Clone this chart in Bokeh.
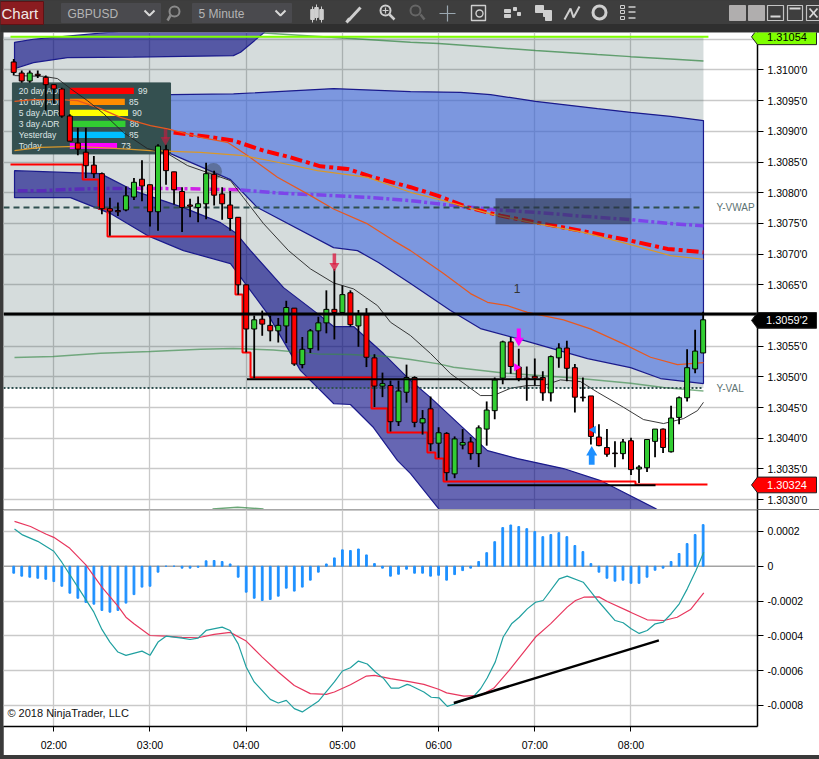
from bokeh.plotting import figure
from bokeh.layouts import column
from bokeh.models import (Range1d, FixedTicker, ColumnDataSource)
from bokeh.core.properties import value
from bokeh.embed import file_html
from bokeh.resources import INLINE
import math

# ---------- data (price values are points above 1.30000, i.e. 1.30000 + v/100000; time is minutes after 00:00) ----------
opens = [1013,995,982,993,988,976,969,925,881,866,845,831,774,771,772,793,822,813,769,870,834,802,780,776,782,830,798,780,760,650,
         578,594,584,575,583,612,520,546,575,588,610,605,637,583,601,531,485,486,427,475,499,425,448,392,408,342,389,394,375,415,
         445,498,557,516,498,501,499,474,531,547,515,467,469,402,385,376,375,396,350,352,395,415,378,434,466,513,539]
closes = [996,982,995,991,976,969,925,884,871,844,831,774,770,769,795,817,811,769,876,836,805,776,778,782,831,796,782,758,650,578,
          593,586,575,584,613,521,545,575,588,610,605,634,585,602,532,485,489,427,477,499,426,432,391,409,344,399,393,375,417,446,
          495,557,517,497,496,498,474,533,547,514,467,466,403,388,374,375,394,349,353,398,415,385,433,466,515,542,593]
highs = [1018,999,999,999,991,977,971,928,906,906,860,833,792,784,810,824,853,813,879,878,834,809,790,794,849,836,809,803,760,650,
         600,608,600,596,624,612,565,578,598,641,676,649,641,609,612,537,507,494,494,520,501,446,468,418,410,403,415,402,421,460,
         499,559,565,546,517,530,509,535,555,559,521,499,469,423,415,395,399,401,356,399,415,416,453,468,545,577,606]
lows = [991,979,979,987,934,945,922,884,861,824,824,765,730,762,770,788,786,745,738,813,781,736,760,752,757,779,756,738,634,540,
        498,567,558,556,555,518,514,539,543,571,561,603,582,549,516,451,467,411,420,458,418,406,379,368,331,335,382,365,353,388,
        431,488,505,493,461,486,461,460,515,493,442,460,390,387,370,353,366,340,327,345,369,376,377,423,460,506,539]
macd_hist = [-4.0,-5.7,-6.3,-6.9,-7.5,-8.8,-11.5,-15.5,-18.4,-20.8,-21.8,-25.4,-26.4,-25.4,-21.2,-16.3,-12,-11.5,-3.4,0,0,-1.1,-1.1,-0.6,
             3.1,3.3,2.7,1.3,-6.3,-14.9,-18.4,-19.7,-19.1,-17.2,-12.6,-14.3,-12,-8,-3.4,1.3,4.8,9.4,9,9.9,6.5,1.5,-1.1,-5.7,-4.6,-1.7,
             -4,-4,-5.7,-5.2,-8,-4.8,-2.5,-1.1,2.7,7.8,14.1,22.2,23.7,22.8,21.6,19.9,17,18.2,19.3,17,11.9,8.4,1.5,-3.4,-6.9,-8.6,-8,
             -9.8,-9.8,-6.3,-2.3,-1.1,2.7,7.3,13,18.2,23.9]

band_top_t = [95.5,107.3,128.5,169.7,232,236.5,250.8,262]
band_top_a = [1045,1050,1055,1065,1075,1076,1078,1085]
band_top_b = [1002,1012,1020,1021,1023.3,1028.7,1060,1085]

blue_up_t = [95.5,149.1,192.8,232.1,294.5,342.5,373.7,392.4,420.4,459.1,479.7,504.6,525.2]
blue_up = [966.3,963,959.8,960.9,969.6,964.7,963.6,959.8,948.9,937,931,924.5,917.5]
blue_lo_t = [95.5,149.1,178.4,192.8,230.2,247,294.5,309.4,322.5,342.5,367.4,386.1,409.2,452.9,479.7,498.4,525.2]
blue_lo = [881.6,876.7,873.5,863.7,821.4,775.8,710.6,705.7,686.2,652,608,578.7,562.4,529.8,515.2,497.3,489.1]

dark_up_t = [95.5,149.1,169.7,200.9,224,233.3,242.7,263.3,284.5,294.5,307,325.6,342.5,355,390.5,409.2,437.9,461,495.3,517]
dark_up = [836,831.1,803.5,775.8,751.3,735,705.7,645.4,603.1,582,582,538,494,466.3,380,367,350.7,331.1,285.5,249.7]
dark_lo_t = [95.5,130.4,155.4,178.4,200.9,230.2,253.3,273.9,294.5,305,319.4,334.4,342.5,360,373.7]
dark_lo = [792,792,766,730.2,705.7,684.6,603.1,510.3,456.6,455,417.5,363.7,342.5,285.5,241.5]

green_hi_t = [250.8,342.5,360,390.5,420.4,459,479.7,504.6,525.2]
green_hi = [1060.3,1045,1042.9,1037.5,1031.5,1025,1021.7,1018,1014.7]
green_lo_t = [95.5,119.8,149.1,180.3,211.5,232.1,257,284.5,305,328.1,342.5,360,369.3,400.5,446.6,479.7,500.3,525.2]
green_lo = [531.5,533.1,538.5,541.2,545,546.1,544,537.5,536.3,533.1,528.2,521.2,515.7,506.5,497.7,489.7,482.7,477.1]
green_bump_t = [219,234.6,250.8]
green_bump = [285,287.6,285]

sma_t = [95.5,113.6,122.3,130.4,141,151,163.5,178.4,191,203.4,215.9,230.2,238.3,250.8,266.4,280.1,294.5,307,321.9,330,342.5,355,367.4,
         386.1,394.2,404.9,415.4,425.4,436,448.5,459.1,475.3,487.8,500.3,512.8,521.5,525.2]
sma = [990.8,989.6,985.9,969.6,950,928.9,897.9,871.9,863.7,844.2,832.8,819.7,792,749.7,705.7,675.9,653.1,643.3,616.1,589,567.3,538,505.4,
       469.6,469.6,481.5,485.9,485.9,495.1,492.4,475,450.5,430.5,424,432.1,445.1,458.6]
orange_t = [95.5,107.3,124.2,134.8,149.1,161.6,180.3,191,211.5,228.3,240.8,259.5,278.2,294.5,315.7,331.9,342.5,363.1,379.9,390.5,403,
            415.4,437.9,454.7,475.3,492.2,509,525.2]
orange = [948.9,951.7,951.7,950,937,922.8,909.3,903.9,890.3,882.1,860.5,825.1,798.1,773.6,749.2,722,705.7,668.3,635.7,621.5,616.1,
          605.2,592.9,578.2,553.8,532,520,523.3]
gold_t = [95.5,111.7,134.8,163.5,180.3,211.5,238.3,259.5,284.5,315.7,342.5,363.1,392.4,420.4,450.4,479.7,504.6,525.2]
gold = [868.6,873.9,875.6,871.4,868.6,865.8,860.5,849.6,836,825.1,800.7,787.2,765.5,750.2,735.5,715.5,697.6,691.6]
red_ma_t = [194.7,215.9,232.1,250.8,267.6,286.3,303.2,319.4,342.5,359.3,378,398.6,420.4,448.5,479.7,502.8,525.2]
red_ma = [897.9,891.4,884.9,868.6,857.7,843,838.8,825.1,809,795.3,776.2,762.7,751.8,738.3,722,708.5,703]
purple_t = [97.4,113.6,136.7,169.7,211.5,236.5,263.3,294.5,315.7,342.5,369.3,396.7,420.4,450.4,479.7,502.8,525.2]
purple = [803.4,803.4,806.2,807.2,806.2,804.6,799,795.3,792.5,787.2,779,772,768.1,761.6,756.2,750.2,746]
step_t = [93,138,147.9,153.5,233.3,237.7,242.7,318.2,328.1,353,358,363.1,482.8,527.7]
step_v = [845.8,821.4,774.1,728.5,634.1,539.6,498.9,448.4,409.3,376.7,367,329.5,324.6,324.6]

macd_red_t = [95.5,105.5,115,120,130,140,150,160,165,170,180,190,200,210,220,230,240,250,260,270,280,290,295,305,315,320,330,342.5,
              350.8,360,365,375.8,386.2,394.5,404.9,420.5,429.8,440.2,445.4,450.6,460,465.2,479.7,490.1,500.5,508.8,517.1,525.4]
macd_red = [25.8,22.8,18.5,16.6,10.3,0.8,-12,-22.9,-29.3,-33.1,-39.8,-40.2,-40.9,-41.1,-39.2,-38,-43,-52.2,-60.8,-68.5,-73.2,-73.6,-72.3,
            -68.1,-63.1,-62.7,-64.6,-66.5,-67.9,-70.7,-72.8,-74.6,-74.2,-70,-58.9,-40.7,-33.1,-23.5,-19.7,-17.8,-17.6,-20.3,-26.4,-30.8,
            -31.2,-29.3,-24.9,-15.3]
macd_teal_t = [95.5,100.5,110,120,125,135,145,150,155,160,165,175,180,185,190,200,205,210,215,225,230,235,240,245,255,260,265,270,275,
               285,295,300,305,310,315.5,320.6,325.8,330.4,335.4,340.4,342.5,350.8,355.4,360.4,365.4,370.4,375.8,381,386.2,390.3,395.3,
               400.3,405.5,410.3,415.3,420.5,425.2,435.2,440.2,450.2,460.2,470.1,475.1,480.1,485.1,490.1,495.1,500.1,505.1,510.1,515.1,
               520.5,525.4]
macd_teal = [21.4,18,14.3,8.6,2.3,-12,-26.4,-36.3,-43.6,-49.3,-51.2,-48.8,-51.2,-43.6,-40.2,-41.3,-42.1,-41.3,-36.9,-35,-36.9,-44.6,-57.9,
             -66.5,-76.5,-78.6,-77.1,-81.8,-83.7,-77.6,-66.5,-60.2,-58.3,-54.5,-56.2,-60.8,-64.6,-70,-70,-67.9,-68.5,-72.3,-75.3,-75.7,
             -80.5,-79,-77.1,-75.7,-70.4,-64.2,-55.1,-40.7,-33.1,-29.3,-24.5,-20.7,-19.7,-7.3,-5.7,-9.2,-20.7,-31.2,-32.5,-35.9,-38.6,
             -36.9,-33.1,-32.1,-27.3,-21.6,-13,-2.5,8]
trend_t = [369.5,497.4]
trend_v = [-78.6,-42.6]

adr_labels = ["20 day ADR","10 day ADR","5 day ADR","3 day ADR","Yesterday","Today"]
adr_values = [99,85,90,86,85,73]
adr_colors = ["#ff0000","#ff8c00","#ffff00","#32cd32","#00bfff","#ff00ff"]

price_ticks = [1.303,1.3035,1.304,1.3045,1.305,1.3055,1.306,1.3065,1.307,1.3075,1.308,1.3085,1.309,1.3095,1.31,1.3105]
price_labels = ["1.3030'0","1.3035'0","1.3040'0","1.3045'0","1.3050'0","1.3055'0","","1.3065'0","1.3070'0","1.3075'0","1.3080'0",
                "1.3085'0","1.3090'0","1.3095'0","1.3100'0",""]
macd_ticks = [0.0002,0,-0.0002,-0.0004,-0.0006,-0.0008]
macd_labels = ["0.0002","0","-0.0002","-0.0004","-0.0006","-0.0008"]
time_ticks = [120,180,240,300,360,420,480]
time_labels = ["02:00","03:00","04:00","05:00","06:00","07:00","08:00"]
flag_levels = [1054, 592, 324]
flag_texts = ["1.31054", "1.3059'2", "1.30324"]
flag_fill = ["#7fff00", "#000000", "#ff0000"]
flag_ink = ["black", "white", "white"]

FONT = "Liberation Sans"
GRID = "#c9c9c9"
X0, X1 = 88.63, 558.9
PRICE_RANGE = (1.30284, 1.31061)
def P(v):
    return [1.3 + a/100000 for a in v] if isinstance(v, list) else 1.3 + v/100000
def M(v):
    return [a/100000 for a in v]

x_range = Range1d(X0, X1)
bars = [95 + 5*i for i in range(len(opens))]

# ---------- toolbar ----------
tb = figure(width=819, height=32, x_range=(0, 819), y_range=(32, 0), output_backend="svg", toolbar_location=None,
            x_axis_location=None, y_axis_location=None, min_border=0, background_fill_color="#3e3e3e",
            border_fill_color="#3e3e3e", outline_line_color=None, frame_align=False)
tb.grid.visible = False
tb.quad(left=[0], right=[819], top=[24], bottom=[32], color="#2f2f2f")
tb.quad(left=[0], right=[43], top=[1], bottom=[24], color="#8a1c20", line_color="#5e1215")
tb.quad(left=[61,192], right=[160,291], top=[3,3], bottom=[22,22], color="#4a4a4e")
tb.text([1], [13], text=["Chart"], text_font=value(FONT), text_font_size="15px", text_color="#f0e8e8", text_baseline="middle")
tb.text([67,198], [13,13], text=["GBPUSD","5 Minute"], text_font=value(FONT), text_font_size="12px",
        text_color="#b4b4b4", text_baseline="middle")
ICON = "#cfcfcf"
tb.multi_line([[144,149,154],[275,280,285]], [[10,15,10],[10,15,10]], line_color="#d8d8d8", line_width=2)
tb.circle([174,385],[11,10], radius=5, fill_color=None, line_color=["#8a8a8a",ICON], line_width=2)
tb.multi_line([[170,167],[389,394]], [[15,20],[14,19]], line_color=["#8a8a8a",ICON], line_width=2.5)
tb.multi_line([[382,388],[385,385]], [[10,10],[7,13]], line_color=ICON, line_width=1.2)
tb.circle([415],[10], radius=5, fill_color=None, line_color="#666666", line_width=2)
tb.multi_line([[420,424]], [[14,19]], line_color="#666666", line_width=2.5)
tb.vbar(x=[312,316,321], width=3.5, top=[9,7,9], bottom=[19,17,19], color=ICON)
tb.multi_line([[312,312],[316,316],[321,321]], [[6,22],[4,20],[6,22]], line_color=ICON, line_width=1)
tb.multi_line([[348,360],[346,349]], [[20,7],[22,18]], line_color=ICON, line_width=3)
tb.multi_line([[439,455],[447,447]], [[13,13],[5,21]], line_color="#9aa7b0", line_width=1.2)
tb.quad(left=[471], right=[485], top=[5], bottom=[20], fill_color=None, line_color=ICON, line_width=1.4)
tb.circle([479],[13], radius=3.5, fill_color=None, line_color=ICON, line_width=1.4)
tb.quad(left=[504,513,517,504], right=[510,516,520,510], top=[9,7,12,14], bottom=[12,10,15,17], color=ICON)
tb.quad(left=[535,543,545], right=[543,551,551], top=[5,10,15], bottom=[12,16,20], color=ICON)
tb.multi_line([[564,570,573,579]], [[19,8,17,6]], line_color=ICON, line_width=2)
tb.circle([599],[12], radius=6.5, fill_color=None, line_color=ICON, line_width=3)
tb.quad(left=[620,620,620], right=[624,624,624], top=[5,10,16], bottom=[8,13,19], fill_color=None, line_color=ICON, line_width=1)
tb.multi_line([[628,635],[628,635],[628,635]], [[6.5,6.5],[11.5,11.5],[17.5,17.5]], line_color=ICON, line_width=1.5)
tb.quad(left=[729,748], right=[745,764], top=[5,5], bottom=[20,20], color="#b0aeae")
tb.quad(left=[767,787,806], right=[783,802,819], top=[5,5,5], bottom=[20,20,20], fill_color=None, line_color="#c4c4c4", line_width=1.2)
tb.multi_line([[770,780],[789,800],[809,817],[809,817]], [[16,16],[8,8],[8,17],[17,8]], line_color="#d8d8d8", line_width=1.8)

# ---------- price panel ----------
p = figure(width=816, height=477, x_range=x_range, y_range=Range1d(*PRICE_RANGE), y_axis_location="right", x_axis_location=None,
           output_backend="svg", toolbar_location=None, min_border_left=0, min_border_right=62, min_border_top=0, min_border_bottom=0,
           outline_line_color=None, background_fill_color="white", margin=(0,0,0,3))
p.xgrid.ticker = FixedTicker(ticks=time_ticks)
p.ygrid.ticker = FixedTicker(ticks=price_ticks)
p.xgrid.grid_line_color = GRID
p.ygrid.grid_line_color = GRID
p.xgrid.grid_line_width = 1.3
p.ygrid.grid_line_width = 1.3
ax = p.yaxis[0]
ax.ticker = FixedTicker(ticks=price_ticks)
ax.major_label_overrides = dict(zip(price_ticks, price_labels))
ax.major_label_text_font = FONT
ax.major_label_text_font_size = "10.5px"
ax.major_label_text_color = "black"
ax.axis_line_color = "black"
ax.axis_line_width = 1.5
ax.major_tick_line_color = "black"
ax.major_tick_out = 6
ax.major_tick_in = 0
ax.minor_tick_line_color = None
ax.major_label_standoff = 4

# value area
va_top, va_bottom = 1054, 481.8
p.quad(left=[X0], right=[525.2], top=[P(va_top)], bottom=[P(va_bottom)], fill_color="#2f4f4f", fill_alpha=0.2, line_color=None)
# bands
DARK = dict(fill_color="#000080", fill_alpha=0.6, line_color="#1a1a8c", line_width=1.2)
p.patch(band_top_t + band_top_t[::-1], P(band_top_a) + P(band_top_b)[::-1], **DARK)
p.patch(dark_up_t + dark_lo_t[::-1], P(dark_up) + P(dark_lo)[::-1], **DARK)
p.patch(blue_up_t + blue_lo_t[::-1], P(blue_up) + P(blue_lo)[::-1], fill_color="#4169e1", fill_alpha=0.6, line_color="#1a1a8c", line_width=1.2)

# ADR table
p.quad(left=[94.2], right=[192.8], top=[P(978.9)], bottom=[P(863.2)], color="#345050")
rows = [965.8,947.9,930,912.1,894.2,876.2]
p.text([98.2]*6, P(rows), text=adr_labels, text_font=value(FONT), text_font_size="8.5px", text_color="#dfe6e6", text_baseline="middle")
p.hbar(y=P(rows), left=[130]*6, right=[130 + 0.4035*v for v in adr_values], height=0.0001, fill_color=adr_colors, line_color=None)
p.text([130 + 0.4035*v + 2.6 for v in adr_values], P(rows), text=[str(v) for v in adr_values], text_font=value(FONT),
       text_font_size="8.5px", text_color="#dfe6e6", text_baseline="middle")

# lines
p.line(green_hi_t, P(green_hi), line_color="#3a8a4a", line_width=1.5, line_alpha=0.75)
p.line(green_lo_t, P(green_lo), line_color="#3a8a4a", line_width=1.5, line_alpha=0.65)
p.line(green_bump_t, P(green_bump), line_color="#3a8a4a", line_width=1.5, line_alpha=0.75)
p.line(purple_t[:4], P(purple[:4]), line_color="#5a2cb8", line_width=3.5, line_dash="10 3 3 3")
p.line(purple_t[3:6], P(purple[3:6]), line_color="#cf22e6", line_width=3.5, line_dash="10 3 3 3")
p.line(purple_t[5:], P(purple[5:]), line_color="#7c45ea", line_width=3.5, line_dash="10 3 3 3")
p.line(red_ma_t, P(red_ma), line_color="#ff0000", line_width=4, line_dash="12 4 4 4")
p.line(orange_t, P(orange), line_color="#e8591f", line_width=1.2)
p.line(gold_t, P(gold), line_color="#d9982a", line_width=1.2)
p.line(sma_t, P(sma), line_color="#222222", line_width=0.9)
p.step(step_t, P(step_v), mode="after", line_color="#ff0000", line_width=2)

# key levels
p.segment(x0=[X0], x1=[525.2], y0=[P(775.8)], y1=[P(775.8)], line_color="#2f4f4f", line_width=2, line_dash="6 4")
p.segment(x0=[X0], x1=[525.2], y0=[P(481.8)], y1=[P(481.8)], line_color="#2f4f4f", line_width=2, line_dash="2 2")
p.text([533.3,533.3], [P(775.8),P(481.8)], text=["Y-VWAP","Y-VAL"], text_font=value(FONT), text_font_size="10px",
       text_color="#5c7272", text_baseline="middle")
p.quad(left=[395.5], right=[480.3], top=[P(791)], bottom=[P(748.6)], fill_color="#2a3048", fill_alpha=0.6, line_color=None)
p.scatter([219.6], [P(834.4)], size=17, marker="circle", fill_color="#2f3a3a", fill_alpha=0.4, line_color=None)

# candles
up = [c >= o for o, c in zip(opens, closes)]
src = ColumnDataSource(dict(x=bars, hi=P(highs), lo=P(lows), top=[P(max(o, c)) for o, c in zip(opens, closes)],
                            bot=[P(min(o, c)) for o, c in zip(opens, closes)],
                            col=["#32cd32" if u else "#ff0000" for u in up]))
p.segment(x0="x", x1="x", y0="lo", y1="hi", source=src, line_color="black", line_width=1.8)
p.vbar(x="x", width=3.1, top="top", bottom="bot", source=src, fill_color="col", line_color="black", line_width=1)

# signal arrows
p.vbar(x=[189.7,295,410,455.5], width=[2.2,2.2,2.5,3.6], top=[P(904),P(701),P(579),P(375)], bottom=[P(888),P(683),P(559),P(357)],
       fill_color=["#dc143c","#dc143c","#ff00ff","#1e90ff"], fill_alpha=[0.55,0.75,1,1], line_color=None)
p.scatter([189.7,295,410], [P(886),P(681),P(559)], size=10, marker="inverted_triangle",
          fill_color=["#dc143c","#dc143c","#ff00ff"], fill_alpha=[0.55,0.75,1], line_color=None)
p.scatter([455.5], [P(377)], size=11, marker="triangle", fill_color="#1e90ff", line_color=None)
p.scatter([456.6], [P(414)], size=8, marker="triangle", angle=math.pi/2, fill_color="#1e90ff", line_color=None)
p.scatter([408.6], [P(515.7)], size=8, marker="triangle", angle=-math.pi/2, fill_color="#ff00ff", line_color=None)
p.text([409], [P(644)], text=["1"], text_font=value(FONT), text_font_size="12px", text_color="#333333", text_align="center", text_baseline="middle")

# horizontal drawings on top
p.segment(x0=[X0], x1=[X1], y0=[P(602.6)], y1=[P(602.6)], line_color="black", line_width=3)
p.segment(x0=[240.5], x1=[425.4], y0=[P(496.1)], y1=[P(496.1)], line_color="black", line_width=2)
p.segment(x0=[365.5], x1=[495.3], y0=[P(323.5)], y1=[P(323.5)], line_color="black", line_width=2)
p.segment(x0=[93], x1=[528.3], y0=[P(1054)], y1=[P(1054)], line_color="#7fff00", line_width=2)

# ---------- price flags: transparent layer laid over the price panel, sharing its y scale ----------
f = figure(width=819, height=477, x_range=(0, 819), y_range=Range1d(*PRICE_RANGE), x_axis_location=None, y_axis_location=None,
           output_backend="svg", toolbar_location=None, min_border=0, outline_line_color=None, background_fill_alpha=0,
           border_fill_alpha=0, margin=(-477,0,0,0), frame_align=False)
f.grid.visible = False
H = 12.8
for lvl, col in zip(flag_levels, flag_fill):
    f.patch([751, 757, 816, 816, 757], [P(lvl), P(lvl + H), P(lvl + H), P(lvl - H), P(lvl - H)], fill_color=col, line_color="#202020", line_width=1)
f.text([786.5]*3, P(flag_levels), text=flag_texts, text_font=value(FONT), text_font_size="11px", text_color=flag_ink,
       text_align="center", text_baseline="middle")

# ---------- MACD panel ----------
q = figure(width=816, height=246, x_range=x_range, y_range=Range1d(-0.000921, 0.000326), y_axis_location="right",
           output_backend="svg", toolbar_location=None, min_border_left=0, min_border_right=62, min_border_top=0, min_border_bottom=29,
           outline_line_color=None, background_fill_color="white", margin=(0,0,0,3))
q.xgrid.ticker = FixedTicker(ticks=time_ticks)
q.ygrid.ticker = FixedTicker(ticks=[t for t in macd_ticks if t != 0])
q.xgrid.grid_line_color = GRID
q.ygrid.grid_line_color = GRID
q.xgrid.grid_line_width = 1.3
q.ygrid.grid_line_width = 1.3
for a in (q.yaxis[0], q.xaxis[0]):
    a.major_label_text_font = FONT
    a.major_label_text_font_size = "10.5px"
    a.major_label_text_color = "black"
    a.axis_line_color = "black"
    a.axis_line_width = 1.5
    a.major_tick_line_color = "black"
    a.major_tick_in = 0
    a.minor_tick_line_color = None
q.yaxis[0].ticker = FixedTicker(ticks=macd_ticks)
q.yaxis[0].major_label_overrides = dict(zip(macd_ticks, macd_labels))
q.yaxis[0].major_tick_out = 6
q.yaxis[0].major_label_standoff = 4
q.xaxis[0].ticker = FixedTicker(ticks=time_ticks)
q.xaxis[0].major_label_overrides = dict(zip(time_ticks, time_labels))
q.xaxis[0].major_tick_out = 5
q.xaxis[0].major_label_standoff = 7
q.segment(x0=[X0], x1=[X1], y0=[0.000322], y1=[0.000322], line_color=GRID, line_width=1.5)
q.segment(x0=[X0], x1=[557.5], y0=[0], y1=[0], line_color="#a3a3a3", line_width=1.5)
q.vbar(x=bars, width=1.1, top=[max(v, 0)/100000 for v in macd_hist], bottom=[min(v, 0)/100000 for v in macd_hist], color="#1e90ff")
q.line(macd_red_t, M(macd_red), line_color="#e8375e", line_width=1.2)
q.line(macd_teal_t, M(macd_teal), line_color="#20a0a0", line_width=1.2)
q.line(trend_t, M(trend_v), line_color="black", line_width=2.5)
q.text([91.1], [-0.000843], text=["\u00a9 2018 NinjaTrader, LLC"], text_font=value(FONT), text_font_size="11px", text_color="#111111", text_baseline="middle")

page = column(tb, p, f, q, width=819, height=759, spacing=0, margin=(0,0,0,0), styles={"background-color": "#3a3a3a"})
open("out.html", "w").write(file_html(page, INLINE))
